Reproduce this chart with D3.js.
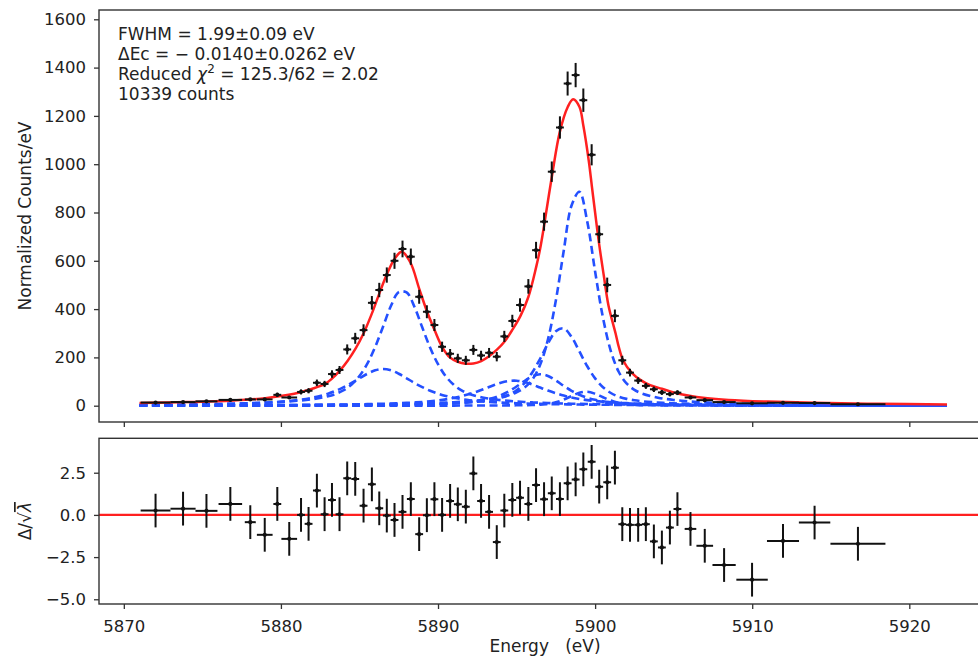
<!DOCTYPE html>
<html>
<head>
<meta charset="utf-8">
<script src="https://cdn.jsdelivr.net/npm/d3@7"></script>
<style>
  html, body { margin: 0; padding: 0; background: #fff; }
  svg { display: block; }
  text { font-family: "DejaVu Sans", sans-serif; fill: #222; }
</style>
</head>
<body>
<svg id="chart" width="978" height="659"></svg>
<script>
// ---------------- data ----------------
// Energy grid on which the fitted model components were read
const fitEnergy = [5871, 5874, 5877, 5879, 5880.5, 5882,
  5883, 5883.5, 5884, 5884.5, 5885, 5885.5, 5886, 5886.5, 5887, 5887.5,
  5888, 5888.5, 5889, 5889.5, 5890, 5890.5, 5891, 5891.5, 5892, 5892.5,
  5893, 5893.5, 5894, 5894.5, 5895, 5895.5, 5896, 5896.5, 5897, 5897.5,
  5898, 5898.5, 5899, 5899.5, 5900, 5900.5, 5901, 5901.5, 5902, 5902.5,
  5903, 5904, 5905, 5906.5, 5908.5, 5911, 5914, 5918, 5922.4];

// Blue dashed model components (counts/eV)
const kAlpha21 = [3.4, 5.1, 8.2, 12.2, 17.5, 27.0,
  39.1, 49.1, 64.2, 87.5, 122.9, 174.1, 243.3, 327.1, 412.6, 470.3,
  468.9, 409.4, 323.6, 240.1, 171.8, 121.3, 86.4, 63.5, 48.6, 38.7,
  31.9, 26.8, 22.9, 19.9, 17.4, 15.3, 13.6, 12.2, 10.9, 9.9,
  9.0, 8.2, 7.5, 6.9, 6.3, 5.9, 5.4, 5.0, 4.7, 4.4,
  4.1, 3.6, 3.2, 2.7, 2.2, 1.8, 1.4, 1.1, 0.8];
const kAlpha22 = [3.2, 4.9, 8.3, 12.8, 19.4, 32.9,
  49.9, 62.0, 76.8, 94.3, 113.6, 132.2, 146.6, 152.0, 146.6, 132.2,
  113.6, 94.3, 76.8, 62.0, 49.9, 40.3, 32.9, 27.2, 22.8, 19.4,
  16.7, 14.5, 12.8, 11.3, 10.1, 9.1, 8.3, 7.5, 6.8, 6.3,
  5.8, 5.3, 4.9, 4.5, 4.2, 3.9, 3.7, 3.4, 3.2, 3.0,
  2.9, 2.6, 2.3, 2.0, 1.6, 1.3, 1.05, 0.8, 0.6];
const kAlpha11 = [1.2, 1.5, 1.9, 2.3, 2.7, 3.2,
  3.6, 3.9, 4.1, 4.4, 4.7, 5.1, 5.5, 5.9, 6.5, 7.0,
  7.7, 8.4, 9.3, 10.3, 11.4, 12.8, 14.4, 16.3, 18.7, 21.6,
  25.2, 29.8, 35.8, 43.9, 55.6, 74.6, 108.2, 169.5, 274.8, 435.5,
  640.3, 829.0, 885.9, 762.2, 555.5, 364.6, 226.4, 140.6, 92.3, 65.8,
  50.3, 33.2, 23.7, 15.5, 9.8, 6.2, 4.0, 2.5, 1.7];
const kAlpha12 = [0.7, 0.9, 1.2, 1.5, 1.7, 2.1,
  2.4, 2.5, 2.7, 2.9, 3.1, 3.4, 3.7, 4.0, 4.4, 4.8,
  5.3, 5.8, 6.5, 7.2, 8.1, 9.2, 10.5, 12.1, 14.2, 16.8,
  20.2, 25.1, 32.6, 44.5, 63.8, 93.9, 137.5, 194.3, 257.4, 308.4,
  320.2, 285.0, 224.6, 163.3, 113.1, 76.7, 52.6, 37.6, 28.3, 22.3,
  18.3, 13.1, 9.8, 6.8, 4.5, 3.0, 2.0, 1.3, 0.9];
const kAlpha14 = [0.5, 0.6, 0.8, 1.0, 1.2, 1.5,
  1.7, 1.8, 2.0, 2.2, 2.3, 2.5, 2.8, 3.1, 3.4, 3.7,
  4.2, 4.7, 5.3, 6.0, 6.9, 8.0, 9.4, 11.3, 14.0, 17.8,
  23.4, 31.7, 43.6, 59.6, 79.6, 101.8, 121.2, 130.0, 123.1, 104.4,
  82.2, 61.7, 45.3, 32.9, 24.3, 18.4, 14.3, 11.6, 9.6, 8.1,
  7.0, 5.4, 4.2, 3.1, 2.2, 1.5, 1.0, 0.7, 0.5];
const kAlpha13 = [1.1, 1.4, 1.9, 2.4, 2.9, 3.6,
  4.2, 4.5, 4.9, 5.4, 5.9, 6.5, 7.2, 8.0, 9.0, 10.1,
  11.5, 13.3, 15.5, 18.2, 21.8, 26.3, 32.1, 39.3, 48.3, 58.9,
  71.1, 83.7, 95.1, 102.5, 103.6, 98.0, 87.6, 75.0, 62.6, 51.5,
  42.0, 34.2, 28.0, 23.1, 19.3, 16.3, 13.9, 12.1, 10.5, 9.3,
  8.3, 6.7, 5.5, 4.3, 3.1, 2.3, 1.6, 1.1, 0.8];
const kAlpha15 = [0.04, 0.05, 0.07, 0.08, 0.1, 0.11,
  0.13, 0.13, 0.14, 0.15, 0.16, 0.18, 0.19, 0.2, 0.22, 0.24,
  0.26, 0.28, 0.31, 0.34, 0.38, 0.42, 0.47, 0.53, 0.61, 0.7,
  0.8, 0.94, 1.1, 1.3, 1.6, 2.1, 2.8, 4.4, 7.7, 14.2,
  25.2, 39.7, 53.3, 57.8, 49.5, 34.9, 21.2, 11.7, 6.4, 3.8,
  2.5, 1.5, 1.05, 0.66, 0.41, 0.25, 0.16, 0.1, 0.07];

// Red total fit curve
const totalFitEnergy = [5871, 5874, 5877, 5879, 5880.5, 5881.3, 5882, 5882.8, 5883.25, 5883.75,
  5884.25, 5884.75, 5885.25, 5885.75, 5886.25, 5886.75, 5887.25, 5887.7, 5888.25, 5888.8,
  5889.3, 5889.8, 5890.25, 5890.75, 5891.25, 5891.75, 5892.25, 5892.75, 5893.25, 5893.75,
  5894.25, 5894.75, 5895.25, 5895.75, 5896.25, 5896.5, 5896.75, 5897.25, 5897.75, 5898.25,
  5898.6, 5899.0, 5899.25, 5899.6, 5899.8, 5900.0, 5900.25, 5900.55, 5900.85, 5901.3,
  5901.5, 5901.8, 5902.35, 5902.9, 5903.5, 5904.25, 5905, 5906, 5907, 5908.5,
  5911, 5914, 5918, 5922.4];
const totalFit = [11, 15, 22, 31, 45, 57, 70, 90, 112, 145,
  186, 236, 298, 375, 462, 545, 610, 637, 592, 485,
  390, 310, 245, 200, 182, 174, 175, 185, 205, 232,
  267, 316, 372, 450, 575, 650, 745, 950, 1133, 1236,
  1269, 1238, 1160, 1012, 905, 800, 672, 540, 415, 300,
  245, 185, 135, 106, 85, 70, 55, 41, 32, 24,
  17, 12, 8, 5];

// Measured spectrum (bin centres, half widths, counts/eV, errors)
const binCenter = [5872.02, 5873.77, 5875.26, 5876.78, 5878.05, 5878.97, 5879.77, 5880.53,
  5881.28, 5881.76, 5882.29, 5882.78, 5883.25, 5883.73, 5884.22, 5884.73, 5885.26, 5885.79,
  5886.26, 5886.74, 5887.23, 5887.74, 5888.27, 5888.80, 5889.29, 5889.77, 5890.26, 5890.77,
  5891.26, 5891.77, 5892.25, 5892.74, 5893.25, 5893.74, 5894.22, 5894.73, 5895.22, 5895.75,
  5896.24, 5896.75, 5897.24, 5897.76, 5898.25, 5898.76, 5899.25, 5899.78, 5900.26, 5900.77,
  5901.26, 5901.73, 5902.22, 5902.74, 5903.23, 5903.74, 5904.25, 5904.76, 5905.24, 5906.07,
  5906.98, 5908.21, 5909.99, 5911.96, 5913.97, 5916.73];
const binHalfWidth = [0.95, 0.8, 0.7, 0.75, 0.35, 0.5, 0.25, 0.5,
  0.25, 0.25, 0.25, 0.25, 0.25, 0.25, 0.25, 0.25, 0.25, 0.25,
  0.25, 0.25, 0.25, 0.25, 0.25, 0.25, 0.25, 0.25, 0.25, 0.25,
  0.25, 0.25, 0.25, 0.25, 0.25, 0.25, 0.25, 0.25, 0.25, 0.25,
  0.25, 0.25, 0.25, 0.25, 0.25, 0.25, 0.25, 0.25, 0.25, 0.25,
  0.25, 0.25, 0.25, 0.25, 0.25, 0.25, 0.25, 0.25, 0.25, 0.37,
  0.53, 0.74, 1.0, 1.02, 1.0, 1.75];
const countsPerEV = [13, 15, 18, 24, 26, 26, 45, 34,
  57, 62, 95, 90, 131, 148, 233, 279, 313, 426,
  479, 541, 600, 649, 617, 451, 389, 334, 244, 215,
  196, 188, 231, 208, 219, 203, 287, 351, 417, 494,
  644, 762, 969, 1152, 1334, 1369, 1265, 1039, 710, 500,
  372, 188, 137, 104, 82, 68, 55, 48, 54, 34,
  23, 15, 10, 12, 11, 6];
const countsErr = [2.5, 2.9, 3.5, 3.8, 5.9, 4.9, 9.1, 5.8,
  10.4, 10.7, 13.3, 12.9, 15.6, 16.5, 20.8, 22.7, 24.1, 28.1,
  29.8, 31.6, 33.3, 34.6, 33.8, 28.9, 26.8, 24.9, 21.2, 19.9,
  19.0, 18.6, 20.7, 19.6, 20.1, 19.4, 23.0, 25.5, 27.8, 30.2,
  34.5, 37.5, 42.3, 46.2, 49.7, 50.3, 48.4, 43.8, 36.2, 30.4,
  26.2, 18.6, 15.9, 13.9, 12.3, 11.2, 10.1, 9.4, 10.0, 6.9,
  4.9, 3.5, 2.5, 2.5, 2.4, 1.5];
const residual = [0.26, 0.37, 0.24, 0.65, -0.43, -1.18, 0.65, -1.42,
  0.0, -0.53, 1.44, 0.04, 0.89, 0.04, 2.17, 2.13, 0.55, 1.81,
  0.39, -0.04, -0.30, 0.18, 0.94, -1.14, -0.02, 0.93, 0.0, 0.83,
  0.63, 0.49, 2.46, 0.83, 0.18, -1.61, 0.26, 0.89, 1.02, 0.65,
  1.77, 0.93, 1.28, 0.94, 1.87, 2.10, 2.70, 3.15, 1.67, 1.93,
  2.80, -0.55, -0.59, -0.59, -0.55, -1.57, -1.93, -0.75, 0.35, -0.83,
  -1.83, -2.97, -3.84, -1.54, -0.45, -1.71];

// Axis ticks and texts
const xTicks = [5870, 5880, 5890, 5900, 5910, 5920];
const yTopTicks = [0, 200, 400, 600, 800, 1000, 1200, 1400, 1600];
const yResTicks = [-5, -2.5, 0, 2.5];
const annotationLines = ["FWHM = 1.99±0.09 eV", "ΔEc = − 0.0140±0.0262 eV", "REDCHI", "10339 counts"];

// ---------------- layout ----------------
const svg = d3.select("#chart");
const L = 99, R = 991;
const topY0 = 10, topY1 = 422;
const resY0 = 438.3, resY1 = 604;

const x = d3.scaleLinear().domain([5868.42, 5925.2]).range([L, R]);
const yTop = d3.scaleLinear().domain([-67.5, 1638.5]).range([topY1, topY0]);
const yRes = d3.scaleLinear().domain([-5.28, 4.54]).range([resY1, resY0]);

const defs = svg.append("defs");
defs.append("clipPath").attr("id", "clipTop").append("rect")
  .attr("x", L).attr("y", topY0).attr("width", R - L).attr("height", topY1 - topY0);
defs.append("clipPath").attr("id", "clipRes").append("rect")
  .attr("x", L).attr("y", resY0).attr("width", R - L).attr("height", resY1 - resY0);

const TICK_FONT = "16.5px";
const AX = "#333";

function styleAxis(g) {
  g.select(".domain").remove();
  g.selectAll(".tick line").attr("stroke", AX).attr("stroke-width", 1.3);
  g.selectAll(".tick text").style("font-size", TICK_FONT).attr("fill", "#222");
}

// ---------- top panel ----------
const gTop = svg.append("g");
const plotTop = gTop.append("g").attr("clip-path", "url(#clipTop)");

const components = [kAlpha22, kAlpha13, kAlpha14, kAlpha15, kAlpha12, kAlpha21, kAlpha11];
const compLine = d3.line()
  .x((d, i) => x(fitEnergy[i]))
  .y(d => yTop(d))
  .curve(d3.curveCatmullRom.alpha(0.5));

components.forEach(c => {
  plotTop.append("path")
    .attr("d", compLine(c))
    .attr("fill", "none")
    .attr("stroke", "#2450ff")
    .attr("stroke-width", 2.6)
    .attr("stroke-dasharray", "8,4.5");
});

const totalLine = d3.line()
  .x((d, i) => x(totalFitEnergy[i]))
  .y(d => yTop(d))
  .curve(d3.curveCatmullRom.alpha(0.5));
plotTop.append("path")
  .attr("d", totalLine(totalFit))
  .attr("fill", "none")
  .attr("stroke", "#ff2020")
  .attr("stroke-width", 2.5);

// data points with error bars
const pts = plotTop.append("g").attr("stroke", "#111").attr("stroke-width", 2);
binCenter.forEach((e, i) => {
  const cx = x(e), cy = yTop(countsPerEV[i]);
  pts.append("line")
    .attr("x1", x(e - binHalfWidth[i])).attr("x2", x(e + binHalfWidth[i]))
    .attr("y1", cy).attr("y2", cy);
  pts.append("line")
    .attr("x1", cx).attr("x2", cx)
    .attr("y1", yTop(countsPerEV[i] - countsErr[i])).attr("y2", yTop(countsPerEV[i] + countsErr[i]));
  pts.append("circle").attr("cx", cx).attr("cy", cy).attr("r", 2.1)
    .attr("fill", "#111").attr("stroke", "none");
});

// frame
gTop.append("rect").attr("x", L).attr("y", topY0).attr("width", R - L).attr("height", topY1 - topY0)
  .attr("fill", "none").attr("stroke", AX).attr("stroke-width", 1.4);

gTop.append("g").attr("transform", `translate(${L},0)`)
  .call(d3.axisLeft(yTop).tickValues(yTopTicks).tickSize(5).tickPadding(8).tickFormat(d3.format("d")))
  .call(styleAxis);
gTop.append("g").attr("transform", `translate(0,${topY1})`)
  .call(d3.axisBottom(x).tickValues(xTicks).tickSize(5).tickFormat(""))
  .call(styleAxis);

// annotation
const ann = gTop.append("g").style("font-size", "17px");
const annY = [39.5, 59.5, 80, 100];
annotationLines.forEach((t, i) => {
  const tx = ann.append("text").attr("x", 118).attr("y", annY[i]).attr("xml:space", "preserve");
  if (t === "REDCHI") {
    tx.append("tspan").text("Reduced ");
    tx.append("tspan").style("font-style", "italic").text("χ");
    tx.append("tspan").attr("dy", -7).style("font-size", "12px").text("2");
    tx.append("tspan").attr("dy", 7).text(" = 125.3/62 = 2.02");
  } else {
    tx.text(t);
  }
});

// y label
svg.append("text")
  .attr("transform", `translate(31,${(topY0 + topY1) / 2}) rotate(-90)`)
  .attr("text-anchor", "middle")
  .style("font-size", "17px")
  .text("Normalized Counts/eV");

// ---------- residual panel ----------
const gRes = svg.append("g");
const plotRes = gRes.append("g").attr("clip-path", "url(#clipRes)");

plotRes.append("line")
  .attr("x1", L).attr("x2", R).attr("y1", yRes(0)).attr("y2", yRes(0))
  .attr("stroke", "#ff2020").attr("stroke-width", 2.2);

const rp = plotRes.append("g").attr("stroke", "#111").attr("stroke-width", 2);
binCenter.forEach((e, i) => {
  const cx = x(e), cy = yRes(residual[i]);
  rp.append("line")
    .attr("x1", x(e - binHalfWidth[i])).attr("x2", x(e + binHalfWidth[i]))
    .attr("y1", cy).attr("y2", cy);
  rp.append("line")
    .attr("x1", cx).attr("x2", cx)
    .attr("y1", yRes(residual[i] - 1)).attr("y2", yRes(residual[i] + 1));
  rp.append("circle").attr("cx", cx).attr("cy", cy).attr("r", 2.1)
    .attr("fill", "#111").attr("stroke", "none");
});

gRes.append("rect").attr("x", L).attr("y", resY0).attr("width", R - L).attr("height", resY1 - resY0)
  .attr("fill", "none").attr("stroke", AX).attr("stroke-width", 1.4);

gRes.append("g").attr("transform", `translate(${L},0)`)
  .call(d3.axisLeft(yRes).tickValues(yResTicks).tickSize(5).tickPadding(8).tickFormat(d3.format(".1f")))
  .call(styleAxis);
gRes.append("g").attr("transform", `translate(0,${resY1})`)
  .call(d3.axisBottom(x).tickValues(xTicks).tickSize(5).tickPadding(11).tickFormat(d3.format("d")))
  .call(styleAxis);

// x label
svg.append("text")
  .attr("x", (L + R) / 2).attr("y", 652)
  .attr("text-anchor", "middle")
  .attr("xml:space", "preserve")
  .style("font-size", "17px")
  .style("white-space", "pre")
  .text("Energy   (eV)");

// residual y label  Δ/√λ
const rl = svg.append("text")
  .attr("transform", `translate(31,${(resY0 + resY1) / 2}) rotate(-90)`)
  .attr("text-anchor", "middle")
  .style("font-size", "17px");
rl.append("tspan").text("Δ/√");
rl.append("tspan").style("font-style", "italic").style("text-decoration", "overline").text("λ");
</script>
</body>
</html>
